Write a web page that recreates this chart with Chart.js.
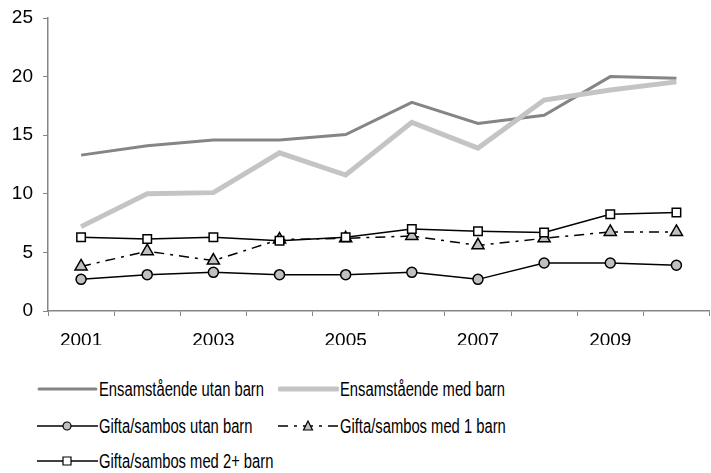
<!DOCTYPE html>
<html>
<head>
<meta charset="utf-8">
<script src="https://cdn.jsdelivr.net/npm/chart.js@4"></script>
<style>
  html, body { margin: 0; padding: 0; background: #fff; overflow: hidden; }
  #wrap { position: absolute; left: 0; top: 0; width: 718px; height: 345px; }
  .leg { position: absolute; height: 20px; display: flex; align-items: center; white-space: nowrap; }
  .leg span { font-family: "Liberation Sans", Arial, sans-serif; font-size: 19.5px; color: #000;
              display: inline-block; transform-origin: left center; margin-left: 1px; }
</style>
</head>
<body>
<div id="wrap"><canvas id="chart" width="718" height="345"></canvas></div>
<div id="legend"></div>
<script>
const years = ['2001', '2002', '2003', '2004', '2005', '2006', '2007', '2008', '2009', '2010'];
const ensUtanBarn = [13.3, 14.1, 14.6, 14.6, 15.05, 17.8, 16.0, 16.7, 20.0, 19.85];
const ensMedBarn = [7.2, 10.0, 10.1, 13.5, 11.6, 16.1, 13.9, 18.0, 18.85, 19.55];
const giftaUtanBarn = [2.7, 3.1, 3.3, 3.1, 3.1, 3.3, 2.7, 4.1, 4.1, 3.9];
const giftaMed1 = [3.8, 5.1, 4.3, 6.1, 6.2, 6.4, 5.6, 6.2, 6.75, 6.75];
const giftaMed2 = [6.3, 6.15, 6.3, 6.0, 6.3, 7.0, 6.8, 6.7, 8.25, 8.4];
const seriesNames = ['Ensamstående utan barn', 'Ensamstående med barn', 'Gifta/sambos utan barn',
                     'Gifta/sambos med 1 barn', 'Gifta/sambos med 2+ barn'];

const axisColor = '#868686';
const font = { family: '"Liberation Sans", Arial, sans-serif', size: 19 };

const datasets = [
    { label: seriesNames[0], data: ensUtanBarn, borderColor: '#858585', borderWidth: 3, pointRadius: 0 },
    { label: seriesNames[1], data: ensMedBarn, borderColor: '#c4c4c4', borderWidth: 5, pointRadius: 0 },
    { label: seriesNames[2], data: giftaUtanBarn, borderColor: '#000', borderWidth: 1.5,
      pointStyle: 'circle', pointRadius: 5, pointBackgroundColor: '#c0c0c0', pointBorderColor: '#000', pointBorderWidth: 1.5 },
    { label: seriesNames[3], data: giftaMed1, borderColor: '#000', borderWidth: 1.5, borderDash: [10, 6, 3, 6],
      pointStyle: 'triangle', pointRadius: 7, pointBackgroundColor: '#c0c0c0', pointBorderColor: '#000', pointBorderWidth: 1.5 },
    { label: seriesNames[4], data: giftaMed2, borderColor: '#000', borderWidth: 1.5,
      pointStyle: 'rect', pointRadius: 6, pointBackgroundColor: '#fff', pointBorderColor: '#000', pointBorderWidth: 1.5 }
];
// draw the lines with markers on top in the original stacking order
datasets.forEach((d, i) => { d.order = 5 - i; d.tension = 0; d.fill = false; });

new Chart(document.getElementById('chart'), {
    type: 'line',
    data: { labels: years, datasets: datasets },
    options: {
        responsive: false,
        animation: false,
        layout: { padding: { top: 18, right: 0, left: 0, bottom: 0 } },
        plugins: { legend: { display: false }, tooltip: { enabled: false } },
        scales: {
            x: {
                offset: true,
                grid: { offset: true, drawOnChartArea: false, drawTicks: true, tickLength: 5, color: axisColor },
                border: { color: axisColor, width: 1.5 },
                ticks: {
                    autoSkip: false, maxRotation: 0, color: '#000', font: font, padding: 13,
                    callback: function (v, i) { return i % 2 === 0 ? years[i] : ''; }
                },
                afterFit: function (s) { s.height = 34; }
            },
            y: {
                min: 0, max: 25,
                grid: { drawOnChartArea: false, drawTicks: true, tickLength: 5, color: axisColor },
                border: { color: axisColor, width: 1.5 },
                ticks: { stepSize: 5, color: '#000', font: font, padding: 10 },
                afterFit: function (s) { s.width = 48; s.paddingTop = 0; s.paddingBottom = 0; }
            }
        }
    }
});

// legend, laid out as in the original (two columns); text is narrow in the original
const legendPos = [[37, 389], [278, 389], [37, 426], [278, 426], [37, 461]];
const legendEl = document.getElementById('legend');
const spans = [];
datasets.forEach((d, i) => {
    const item = document.createElement('div');
    item.className = 'leg';
    item.style.left = legendPos[i][0] + 'px';
    item.style.top = (legendPos[i][1] - 10) + 'px';
    const c = document.createElement('canvas');
    c.width = 61; c.height = 20;
    const ctx = c.getContext('2d');
    ctx.strokeStyle = d.borderColor;
    ctx.lineWidth = d.borderWidth;
    ctx.lineCap = d.borderWidth > 2 ? 'round' : 'butt';
    ctx.setLineDash(d.borderDash || []);
    ctx.beginPath();
    ctx.moveTo(d.borderWidth > 2 ? 2 : 0, 10);
    ctx.lineTo(d.borderWidth > 2 ? 59 : 61, 10);
    ctx.stroke();
    ctx.setLineDash([]);
    if (d.pointRadius) {
        ctx.fillStyle = d.pointBackgroundColor;
        ctx.strokeStyle = '#000';
        ctx.lineWidth = 1.2;
        ctx.beginPath();
        if (d.pointStyle === 'circle') ctx.arc(30, 10, 4, 0, Math.PI * 2);
        else if (d.pointStyle === 'rect') ctx.rect(26, 6, 8, 8);
        else { ctx.moveTo(30, 5); ctx.lineTo(34.5, 14); ctx.lineTo(25.5, 14); ctx.closePath(); }
        ctx.fill(); ctx.stroke();
    }
    item.appendChild(c);
    const t = document.createElement('span');
    t.textContent = d.label;
    item.appendChild(t);
    legendEl.appendChild(item);
    spans.push(t);
});
// first label is 165px wide in the original
const squeeze = 165 / spans[0].getBoundingClientRect().width;
spans.forEach(t => { t.style.transform = 'scaleX(' + squeeze + ')'; });
</script>
</body>
</html>
